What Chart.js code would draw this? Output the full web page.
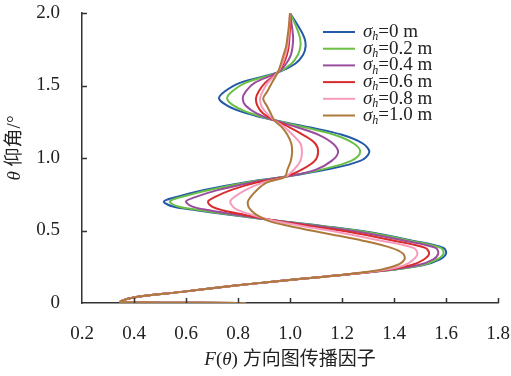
<!DOCTYPE html>
<html>
<head>
<meta charset="utf-8">
<script src="https://cdn.jsdelivr.net/npm/chart.js@4/dist/chart.umd.min.js"></script>
<style>
  html, body { margin: 0; padding: 0; background: #fff; }
  canvas { display: block; }
</style>
</head>
<body>
<canvas id="patternChart" width="511" height="376"></canvas>
<script>
// elevation angle θ (deg), shared by all curves
const theta = [0, 0.007, 0.035, 0.075, 0.12, 0.15, 0.18, 0.22, 0.26, 0.30, 0.34, 0.38, 0.43, 0.48, 0.53, 0.565,
  0.61, 0.64, 0.665, 0.70, 0.73, 0.78, 0.83, 0.87, 0.92, 0.98, 1.04, 1.10, 1.16, 1.21, 1.26,
  1.31, 1.36, 1.41, 1.46, 1.52, 1.59, 1.65, 1.71, 1.77, 1.83, 1.90, 2.0];

// propagation factor F(θ) for each sigma_h
const f00 = [0.83, 0.35, 0.39, 0.575, 0.79, 0.95, 1.12, 1.35, 1.51, 1.575, 1.60, 1.59, 1.47, 1.335, 1.13, 0.96,
  0.76, 0.64, 0.55, 0.515, 0.56, 0.67, 0.82, 0.98, 1.14, 1.27, 1.305, 1.28, 1.20, 1.08, 0.94,
  0.83, 0.76, 0.727, 0.75, 0.81, 0.953, 1.02, 1.05, 1.06, 1.055, 1.035, 1.0];
const f02 = [0.83, 0.35, 0.39, 0.575, 0.79, 0.95, 1.12, 1.35, 1.505, 1.565, 1.59, 1.58, 1.46, 1.325, 1.125, 0.96,
  0.77, 0.655, 0.57, 0.538, 0.58, 0.69, 0.83, 0.98, 1.12, 1.235, 1.27, 1.245, 1.17, 1.06, 0.94,
  0.845, 0.785, 0.758, 0.778, 0.83, 0.953, 1.005, 1.03, 1.04, 1.038, 1.025, 1.0];
const f04 = [0.83, 0.35, 0.39, 0.575, 0.79, 0.95, 1.12, 1.345, 1.49, 1.55, 1.57, 1.56, 1.44, 1.30, 1.11, 0.955,
  0.79, 0.69, 0.625, 0.60, 0.635, 0.725, 0.85, 0.98, 1.10, 1.16, 1.185, 1.165, 1.11, 1.03, 0.94,
  0.87, 0.83, 0.818, 0.83, 0.865, 0.953, 0.985, 1.003, 1.01, 1.012, 1.008, 1.0];
const f06 = [0.83, 0.35, 0.39, 0.575, 0.79, 0.95, 1.12, 1.34, 1.465, 1.515, 1.535, 1.52, 1.40, 1.26, 1.08, 0.95,
  0.82, 0.74, 0.70, 0.685, 0.71, 0.775, 0.87, 0.98, 1.045, 1.095, 1.108, 1.097, 1.05, 1.00, 0.94,
  0.895, 0.875, 0.869, 0.88, 0.905, 0.953, 0.975, 0.988, 0.995, 0.998, 1.0, 1.0];
const f08 = [0.83, 0.35, 0.39, 0.575, 0.79, 0.95, 1.12, 1.335, 1.44, 1.475, 1.49, 1.475, 1.35, 1.21, 1.05, 0.94,
  0.85, 0.80, 0.78, 0.77, 0.785, 0.83, 0.895, 0.98, 1.015, 1.04, 1.046, 1.04, 1.01, 0.98, 0.94,
  0.91, 0.89, 0.885, 0.895, 0.915, 0.953, 0.97, 0.982, 0.99, 0.994, 0.997, 1.0];
const f10 = [0.83, 0.35, 0.39, 0.575, 0.79, 0.95, 1.12, 1.32, 1.41, 1.44, 1.435, 1.39, 1.28, 1.14, 1.0, 0.92,
  0.87, 0.85, 0.84, 0.838, 0.848, 0.873, 0.91, 0.98, 0.99, 1.003, 1.008, 1.005, 0.99, 0.97, 0.94,
  0.925, 0.911, 0.897, 0.913, 0.931, 0.953, 0.965, 0.975, 0.985, 0.99, 0.995, 1.0];

const sigmaLabels = ['0', '0.2', '0.4', '0.6', '0.8', '1.0'];
const seriesValues = [f00, f02, f04, f06, f08, f10];
const colors = ['#2459a8', '#6abf45', '#9a4c9e', '#d92b2b', '#f59bbd', '#ad7a3c'];

const xTicks = [0.2, 0.4, 0.6, 0.8, 1.0, 1.2, 1.4, 1.6, 1.8];
const yTicks = [0, 0.5, 1.0, 1.5, 2.0];

const serif = '"Liberation Serif", "Times New Roman", "Noto Sans CJK SC", serif';
const axisColor = '#333';

// inward tick marks
const innerTicks = {
  id: 'innerTicks',
  afterDraw(chart) {
    const ctx = chart.ctx;
    const xs = chart.scales.x, ys = chart.scales.y;
    const area = chart.chartArea;
    ctx.save();
    ctx.strokeStyle = axisColor;
    ctx.lineWidth = 1.5;
    ctx.beginPath();
    xTicks.slice(1).forEach(v => {
      const px = Math.round(xs.getPixelForValue(v)) + 0.5;
      ctx.moveTo(px, area.bottom);
      ctx.lineTo(px, area.bottom - 5);
    });
    yTicks.slice(1).forEach(v => {
      const py = Math.round(ys.getPixelForValue(v)) + 0.5;
      ctx.moveTo(area.left, py);
      ctx.lineTo(area.left + 5, py);
    });
    ctx.stroke();
    ctx.restore();
  }
};

// legend and axis titles with italic / subscript parts
const textParts = {
  id: 'textParts',
  afterDraw(chart) {
    const ctx = chart.ctx;
    ctx.save();
    ctx.fillStyle = '#222';
    ctx.textBaseline = 'middle';
    ctx.textAlign = 'left';

    // legend
    sigmaLabels.forEach((lab, i) => {
      const y = 32 + i * 16.7;
      ctx.strokeStyle = colors[i];
      ctx.lineWidth = 2;
      ctx.beginPath();
      ctx.moveTo(323, y);
      ctx.lineTo(355, y);
      ctx.stroke();
      let x = 363;
      ctx.font = 'italic 19px ' + serif;
      ctx.fillText('σ', x, y);
      x += ctx.measureText('σ').width;
      ctx.font = 'italic 12px ' + serif;
      ctx.fillText('h', x, y + 5);
      x += ctx.measureText('h').width;
      ctx.font = '19px ' + serif;
      ctx.fillText('=' + lab + ' m', x, y);
    });

    // x title
    const xParts = [['F', true], ['(', false], ['θ', true], [') 方向图传播因子', false]];
    drawParts(ctx, xParts, (chart.chartArea.left + chart.chartArea.right) / 2, 360, 0);

    // y title
    const yParts = [['θ', true], [' 仰角/°', false]];
    drawParts(ctx, yParts, 15, 148, -Math.PI / 2);
    ctx.restore();
  }
};

function drawParts(ctx, parts, cx, cy, rot) {
  ctx.save();
  ctx.translate(cx, cy);
  ctx.rotate(rot);
  let total = 0;
  parts.forEach(([t, it]) => {
    ctx.font = (it ? 'italic ' : '') + '19px ' + serif;
    total += ctx.measureText(t).width;
  });
  let x = -total / 2;
  parts.forEach(([t, it]) => {
    ctx.font = (it ? 'italic ' : '') + '19px ' + serif;
    ctx.fillText(t, x, 0);
    x += ctx.measureText(t).width;
  });
  ctx.restore();
}

const datasets = seriesValues.map((vals, i) => ({
  label: 'σh=' + sigmaLabels[i] + ' m',
  data: theta.map((t, j) => ({ x: vals[j], y: t })),
  borderColor: colors[i],
  backgroundColor: colors[i],
  borderWidth: 2,
  pointRadius: 0,
  showLine: true,
  tension: 0.35,
  fill: false,
  order: seriesValues.length - i
}));

new Chart(document.getElementById('patternChart'), {
  type: 'scatter',
  data: { datasets },
  options: {
    responsive: false,
    animation: false,
    devicePixelRatio: 1,
    layout: { padding: { top: 13, right: 13, left: 0, bottom: 0 } },
    plugins: {
      legend: { display: false },
      tooltip: { enabled: false }
    },
    scales: {
      x: {
        type: 'linear',
        min: 0.2,
        max: 1.8,
        afterFit: s => { s.height = 73; s.paddingLeft = 0; s.paddingRight = 0; },
        afterBuildTicks: s => { s.ticks = xTicks.map(v => ({ value: v })); },
        ticks: {
          callback: v => v.toFixed(1),
          font: { family: serif, size: 19 },
          color: '#222',
          padding: 12,
          maxRotation: 0
        },
        grid: { display: false },
        border: { display: true, color: axisColor, width: 1.5 }
      },
      y: {
        type: 'linear',
        min: 0,
        max: 2,
        afterFit: s => { s.width = 82; s.paddingTop = 0; s.paddingBottom = 0; },
        afterBuildTicks: s => { s.ticks = yTicks.map(v => ({ value: v })); },
        ticks: {
          callback: v => v === 0 ? '0' : v.toFixed(1),
          font: { family: serif, size: 19 },
          color: '#222',
          padding: 14
        },
        grid: { display: false },
        border: { display: true, color: axisColor, width: 1.5 }
      }
    }
  },
  plugins: [innerTicks, textParts]
});
</script>
</body>
</html>
